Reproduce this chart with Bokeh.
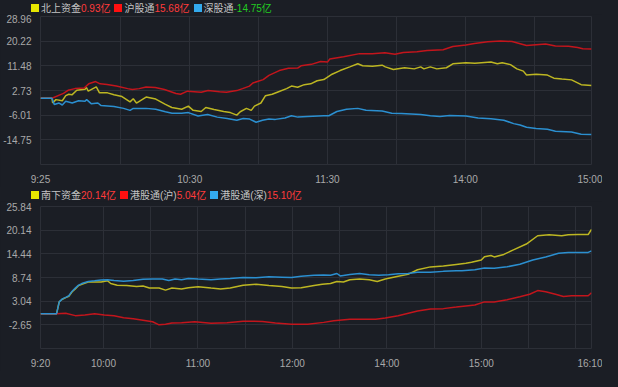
from bokeh.plotting import figure
from bokeh.layouts import column
from bokeh.models import FixedTicker, Range1d, Div, GlobalInlineStyleSheet
from bokeh.embed import file_html
from bokeh.resources import INLINE

# ---------------- data: northbound (top) ----------------
# x = minute slot since 9:25 (lunch break removed), y = net flow (亿)
north_ticks = [0, 65, 125, 185, 240]
north_tick_labels = ["9:25", "10:30", "11:30", "14:00", "15:00"]
north_grid_x = [35, 65, 95, 125, 155, 185, 215]
north_y_ticks = [28.96, 20.22, 11.48, 2.73, -6.01, -14.75, -23.49]
north_y_labels = ["28.96", "20.22", "11.48", "2.73", "-6.01", "-14.75", ""]

north_t = [0, 5, 5.3, 6.7, 9.5, 11, 12.3, 13.7, 15.8, 19.4, 20, 20.8, 24.3, 25.7, 29.2, 32, 35.5, 39,
           40.4, 41.8, 46, 50.2, 54.4, 57.2, 61.5, 64.4, 66.5, 70, 72, 75.6, 79.8, 82.7, 85.5, 87, 89.7,
           91.8, 93.2, 96, 98, 100.9, 103.7, 107.2, 109.3, 112, 114.9, 117.7, 120.5, 123.4, 127, 130.5,
           134.7, 138.2, 140.3, 144.6, 148.8, 150.2, 153.7, 158.6, 162.8, 165.6, 167, 169.8, 172.6, 176.8,
           179.6, 185.3, 189.2, 196.2, 199, 201.1, 204.7, 207.5, 210.3, 211.7, 215.9, 220.8, 223.6, 227.1,
           231.3, 235.5, 240]
north_v = [0, 0, -1.7, -0.5, -0.9, 0.9, 1.4, 1.2, 2.8, 3.2, 3.8, 2.5, 4.0, 1.9, 1.9, 1.2, 0.6, -1.3,
           -0.2, -1.7, 0.4, -0.3, -2.2, -3.3, -3.9, -2.8, -4.3, -4.7, -3.3, -4.0, -4.7, -5.1, -6.0, -4.8, -3.6,
           -4.3, -2.8, -1.7, 0.9, 1.4, 2.3, 3.4, 4.3, 3.9, 4.8, 5.1, 6.2, 6.6, 8.5, 9.8,
           11.1, 12.2, 11.5, 11.3, 11.7, 11.1, 10.2, 10.8, 10.4, 11.1, 10.4, 11.1, 10.4, 10.8,
           12.2, 12.6, 12.4, 12.8, 12.2, 12.6, 11.9, 10.4, 9.6, 8.2, 8.5, 8.2, 7.1, 6.8,
           6.5, 4.8, 4.5]

sh_t = [0, 5, 10, 12, 15, 19, 21, 24, 26, 29, 33, 38, 40, 43, 46, 50, 54, 59, 61, 64, 70, 73, 78, 81,
        85.5, 88, 91, 92.5, 97, 99.5, 104, 108, 112, 113.5, 118, 122, 125, 126, 132, 139, 144.5, 150,
        154.4, 158, 164, 168.4, 175.4, 179.6, 185.3, 189, 194.8, 200.4, 205.4, 211.7, 220, 224.3, 230,
        234, 236.2, 240]
sh_v = [0, 0, 1.7, 2.8, 3.4, 3.6, 5.1, 5.9, 5.1, 4.9, 4.3, 3.4, 3.1, 3.4, 4.0, 3.8, 3.1, 1.7, 1.4, 2.5,
        2.1, 2.7, 2.3, 2.1, 2.7, 3.4, 4.3, 5.4, 6.6, 8.1, 9.8, 10.6, 10.7, 11.5, 12.0, 13.0, 12.8, 13.9,
        14.7, 15.8, 15.8, 16.1, 15.6, 16.2, 16.5, 16.9, 17.2, 18.3, 18.9, 19.4, 20.0, 20.3, 20.1, 18.7,
        19.2, 18.5, 18.4, 18.0, 17.5, 17.4]

sz_t = [0, 5, 6, 8.1, 9.5, 11, 13.8, 16.6, 19.4, 20.1, 22.2, 25, 26.4, 32, 36.2, 39, 40.4, 46, 50.2,
        54.4, 57.3, 61.5, 64.4, 68.6, 72.8, 77, 81.3, 85.5, 88.3, 91.1, 93.9, 96.7, 99.5, 102.3, 106.5,
        109.3, 112.1, 116.3, 123.4, 125.6, 129.1, 133.3, 138.2, 141.8, 148.8, 153, 157.2, 161.4, 165.6,
        169.8, 174, 178.2, 185.3, 190.6, 196.2, 201.8, 206.1, 208.9, 211.7, 215.9, 220.8, 224.3, 231.3,
        235.5, 240]
sz_v = [0, 0, -2.2, -1.7, -2.4, -1.1, -1.7, -0.9, -1.1, -0.5, -2.0, -1.7, -2.6, -2.9, -3.6, -4.3, -3.6,
        -3.6, -3.9, -4.8, -5.3, -5.3, -5.1, -6.3, -5.8, -6.7, -7.2, -7.8, -7.2, -7.4, -8.5, -7.8, -7.4,
        -7.5, -7.0, -6.2, -6.7, -6.5, -6.2, -6.2, -4.7, -3.9, -3.6, -4.3, -4.5, -5.3, -5.4, -5.6, -5.8,
        -6.2, -6.5, -6.1, -6.3, -7.0, -7.3, -7.8, -9.0, -9.5, -10.3, -10.7, -11.0, -11.7, -12.0, -12.8,
        -12.9]

# ---------------- data: southbound (bottom) ----------------
# x = minute slot since 9:20 (12:00-13:00 removed)
south_ticks = [0, 40, 100, 160, 220, 280, 350]
south_tick_labels = ["9:20", "10:00", "11:00", "12:00", "14:00", "15:00", "16:10"]
south_grid_x = [40, 70, 100, 130, 160, 190, 220, 250, 280, 310, 340]
south_y_ticks = [25.84, 20.14, 14.44, 8.74, 3.04, -2.65, -8.35]
south_y_labels = ["25.84", "20.14", "14.44", "8.74", "3.04", "-2.65", ""]

south_t = [0, 10.2, 11.9, 13.9, 16, 18, 20.1, 22.1, 24.2, 26.2, 30.3, 38.5, 42.6, 44.6, 48.7, 54.8, 61,
           65.1, 69.2, 75.3, 79.4, 83.5, 89.6, 93.9, 100.1, 108.3, 114.4, 120.5, 128.7, 136.9, 145.1,
           153.3, 159.4, 165.6, 173.8, 179, 184.2, 188.3, 192.4, 196.5, 202.7, 208.8, 213.9, 219, 227.2,
           233.4, 239.5, 247.7, 255.9, 264.1, 270.2, 273.8, 280, 282, 286.1, 288.2, 294.3, 300.4, 308.6,
           315.8, 323, 331.1, 335.2, 341.4, 347.9, 350]
south_v = [0, 0, 2.9, 3.5, 3.9, 4.2, 5.3, 6.0, 6.8, 7.1, 7.65, 7.65, 7.95, 7.3, 6.9, 6.8, 6.55, 6.7, 6.2,
           6.2, 5.7, 6.2, 6.0, 6.3, 6.5, 6.2, 6.0, 6.2, 6.9, 7.1, 6.8, 6.55, 6.2, 6.3, 6.8, 7.1, 7.3, 7.8,
           7.65, 8.2, 8.4, 8.2, 7.8, 8.4, 9.05, 9.5, 10.6, 11.3, 11.5, 11.9, 12.2, 12.4, 12.95, 13.75,
           14.05, 13.7, 14.3, 15.4, 16.8, 18.8, 19.05, 18.8, 19.05, 19.1, 19.1, 20.3]

hk_sh_t = [0, 10.2, 16, 22.1, 28.2, 34.4, 40.5, 46.7, 52.8, 58.9, 65.1, 71.2, 75.3, 79.4, 83.5, 89.6, 98,
           108.3, 118.5, 128.7, 141, 149.2, 159.4, 169.7, 179.9, 186.3, 196.5, 204.7, 212.9, 219, 227.2,
           239.5, 247.7, 255.9, 264.1, 270.2, 275.9, 282, 288.2, 296.4, 304.5, 310.7, 315.8, 320.9, 327.1,
           332.2, 337.3, 347.9, 350]
hk_sh_v = [0, 0, 0.15, -0.44, -0.29, 0, -0.29, -0.44, -0.96, -1.18, -1.54, -1.91, -2.65, -2.5, -2.2,
           -2.13, -1.91, -2.28, -2.13, -1.77, -1.84, -2.2, -2.5, -2.5, -2.06, -1.69, -1.32, -1.32, -1.32,
           -1.03, -0.44, 0.66, 1.18, 1.25, 1.62, 1.91, 2.13, 2.87, 2.87, 3.38, 4.12, 4.71, 5.59, 5.3, 4.71,
           4.19, 4.34, 4.34, 5.08]

hk_sz_t = [0, 10.2, 11.9, 13.9, 16, 18, 20.1, 22.1, 24.2, 26.2, 30.3, 34.4, 38.5, 42.6, 46.7, 52.8, 58.9,
           65.1, 71.2, 77.4, 81.5, 85.5, 89.6, 93.9, 100.1, 108.3, 114.4, 120.5, 128.7, 136.9, 145.1,
           153.3, 159.4, 165.6, 173.8, 179.9, 184.2, 188.3, 190.4, 196.5, 202.7, 208.8, 214.9, 221.1,
           227.2, 233.4, 239.5, 247.7, 255.9, 264.1, 267.7, 275.9, 282, 288.2, 296.4, 304.5, 312.7, 320.9,
           329.1, 335.2, 347.9, 350]
hk_sz_v = [0, 0, 2.87, 3.6, 3.97, 4.34, 5.45, 6.18, 6.91, 7.28, 7.79, 7.95, 8.17, 8.23, 8.01, 7.87, 8.01,
           8.32, 8.39, 8.39, 8.01, 8.39, 8.23, 8.53, 8.39, 8.23, 8.39, 8.53, 8.75, 8.68, 8.9, 8.83, 8.75,
           9.05, 9.27, 9.34, 9.27, 9.71, 9.12, 9.49, 9.71, 9.42, 9.27, 9.42, 9.64, 9.71, 10.0, 10.0, 10.22,
           10.37, 10.37, 10.59, 11.03, 10.96, 11.32, 11.92, 12.95, 13.68, 14.57, 14.79, 14.79, 15.16]

north_legend = [("北上资金", "0.93亿", "#e6e600", "#ff3b3b"),
                ("沪股通", "15.68亿", "#ff1010", "#ff3b3b"),
                ("深股通", "-14.75亿", "#33aaee", "#22cc22")]
south_legend = [("南下资金", "20.14亿", "#e6e600", "#ff3b3b"),
                ("港股通(沪)", "5.04亿", "#ff1010", "#ff3b3b"),
                ("港股通(深)", "15.10亿", "#33aaee", "#ff3b3b")]

# ---------------- styling ----------------
BG = "#1b1e25"
GRID = "#2c2f37"
TICK = "#a9a9a9"
NAME = "#c4c4c4"
YELLOW = "#bdb622"
RED = "#c3151c"
BLUE = "#2b8fd0"
FONT = "Liberation Sans"
W = 602
LEFT = 31
RIGHT = 11


def legend_div(items, height):
    parts = []
    for name, val, sq, vc in items:
        parts.append(
            '<span style="display:inline-block;width:8px;height:8px;background:%s;'
            'margin-right:2px;vertical-align:middle;position:relative;top:-1px"></span>' % sq)
        parts.append('<span style="color:%s">%s</span>' % (NAME, name))
        parts.append('<span style="color:%s;margin-right:4px">%s</span>' % (vc, val))
    html = ('<div style="font-family:\'Liberation Sans\',\'Noto Sans CJK SC\';font-size:10px;'
            'line-height:%dpx;white-space:nowrap;padding-left:%dpx;">%s</div>'
            % (height, LEFT, "".join(parts)))
    return Div(text=html, width=W, height=height, margin=0,
               styles={"background-color": BG})


def make_fig(height, top, bottom, xmax, yt, yl, xt, xl, xg):
    p = figure(width=W, height=height, output_backend="svg", toolbar_location=None,
               x_range=Range1d(0, xmax), y_range=Range1d(yt[-1], yt[0]),
               background_fill_color=BG, border_fill_color=BG,
               min_border_left=LEFT, min_border_right=RIGHT,
               min_border_top=top, min_border_bottom=bottom)
    p.outline_line_color = GRID
    p.outline_line_width = 1
    for ax in (p.xaxis[0], p.yaxis[0]):
        ax.axis_line_color = None
        ax.major_tick_line_color = None
        ax.minor_tick_line_color = None
        ax.major_label_text_color = TICK
        ax.major_label_text_font = FONT
        ax.major_label_text_font_size = "10px"
        ax.major_label_standoff = 3
    p.xaxis.ticker = FixedTicker(ticks=xt)
    p.xaxis.major_label_overrides = {t: s for t, s in zip(xt, xl)}
    p.yaxis.ticker = FixedTicker(ticks=yt)
    p.yaxis.major_label_overrides = {t: s for t, s in zip(yt, yl)}
    p.xgrid.ticker = FixedTicker(ticks=xg)
    p.ygrid.ticker = FixedTicker(ticks=yt)
    p.xgrid.grid_line_color = GRID
    p.ygrid.grid_line_color = GRID
    return p


top = make_fig(173, 2, 21, 240, north_y_ticks, north_y_labels,
               north_ticks, north_tick_labels, north_grid_x)
top.line(north_t, north_v, line_color=YELLOW, line_width=1.5)
top.line(sh_t, sh_v, line_color=RED, line_width=1.5)
top.line(sz_t, sz_v, line_color=BLUE, line_width=1.5)

bot = make_fig(170, 5, 16, 350, south_y_ticks, south_y_labels,
               south_ticks, south_tick_labels, south_grid_x)
bot.line(south_t, south_v, line_color=YELLOW, line_width=1.5)
bot.line(hk_sh_t, hk_sh_v, line_color=RED, line_width=1.5)
bot.line(hk_sz_t, hk_sz_v, line_color=BLUE, line_width=1.5)

layout = column(legend_div(north_legend, 14), top, legend_div(south_legend, 14), bot,
                spacing=0, styles={"background-color": BG})
layout.stylesheets = [GlobalInlineStyleSheet(css="html, body { background-color: %s; }" % BG)]

open("out.html", "w").write(file_html(layout, INLINE))
